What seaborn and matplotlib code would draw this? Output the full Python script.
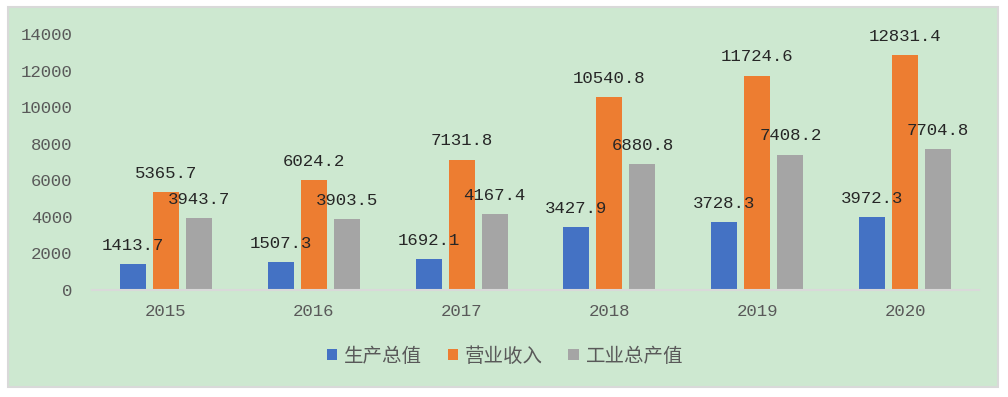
import matplotlib
matplotlib.use('Agg')
import matplotlib.pyplot as plt
from matplotlib.patches import Rectangle, Patch
import seaborn as sns
import pandas as pd

years = ['2015', '2016', '2017', '2018', '2019', '2020']
series = ['生产总值', '营业收入', '工业总产值']
gdp = [1413.7, 1507.3, 1692.1, 3427.9, 3728.3, 3972.3]
revenue = [5365.7, 6024.2, 7131.8, 10540.8, 11724.6, 12831.4]
industry = [3943.7, 3903.5, 4167.4, 6880.8, 7408.2, 7704.8]
colors = ['#4472C4', '#ED7D31', '#A5A5A5']
yticks = [0, 2000, 4000, 6000, 8000, 10000, 12000, 14000]

df = pd.DataFrame({
    'year': years * 3,
    'series': [s for s in series for _ in years],
    'value': gdp + revenue + industry,
})

sns.set_style('white')
plt.rcParams['font.family'] = ['Noto Sans CJK SC', 'DejaVu Sans']
num_font = 'Liberation Mono'
txt_col = '#595959'

fig = plt.figure(figsize=(10.08, 3.97), dpi=100)
fig.patch.set_facecolor('white')
# green chart area with thin grey border
fig.patches.append(Rectangle((8 / 1008, 1 - 387 / 397), 990 / 1008, 380 / 397,
                             transform=fig.transFigure, facecolor='#CDE8D0',
                             edgecolor='#D9D9D9', linewidth=1.5, zorder=-5))

ax = fig.add_axes([92 / 1008, 1 - 290 / 397, 887 / 1008, 256 / 397])
ax.set_facecolor('none')
ax.set_zorder(2)

sns.barplot(data=df, x='year', y='value', hue='series', palette=colors,
            width=0.67, gap=0.21, ax=ax, legend=False, saturation=1, linewidth=0)

for cont in ax.containers:
    for bar in cont:
        h = bar.get_height()
        ax.annotate(f'{h:.1f}', (bar.get_x() + bar.get_width() / 2, h),
                    xytext=(0, 8), textcoords='offset points',
                    ha='center', va='bottom', fontsize=12.5,
                    family=num_font, color='#262626')

ax.set_ylim(0, 14000)
ax.set_yticks(yticks)
ax.set_yticklabels([str(t) for t in yticks], family=num_font, fontsize=12.5, color=txt_col)
ax.set_xticks(range(len(years)))
ax.set_xticklabels(years, family=num_font, fontsize=12.5, color=txt_col)
ax.tick_params(axis='y', length=0, pad=14)
ax.tick_params(axis='x', length=0, pad=10)
ax.set_xlabel('')
ax.set_ylabel('')
for s in ['top', 'right', 'left']:
    ax.spines[s].set_visible(False)
ax.spines['bottom'].set_color('#D9D9D9')
ax.spines['bottom'].set_linewidth(1.5)

handles = [Patch(facecolor=c, edgecolor='none') for c in colors]
leg = fig.legend(handles, series, loc='center', bbox_to_anchor=(505 / 1008, 1 - 356 / 397),
                 ncol=3, frameon=False, fontsize=14, handlelength=0.55, handleheight=0.55,
                 handletextpad=0.35, columnspacing=1.3)
for t in leg.get_texts():
    t.set_color(txt_col)

fig.savefig('out.png', dpi=100, facecolor='white')
